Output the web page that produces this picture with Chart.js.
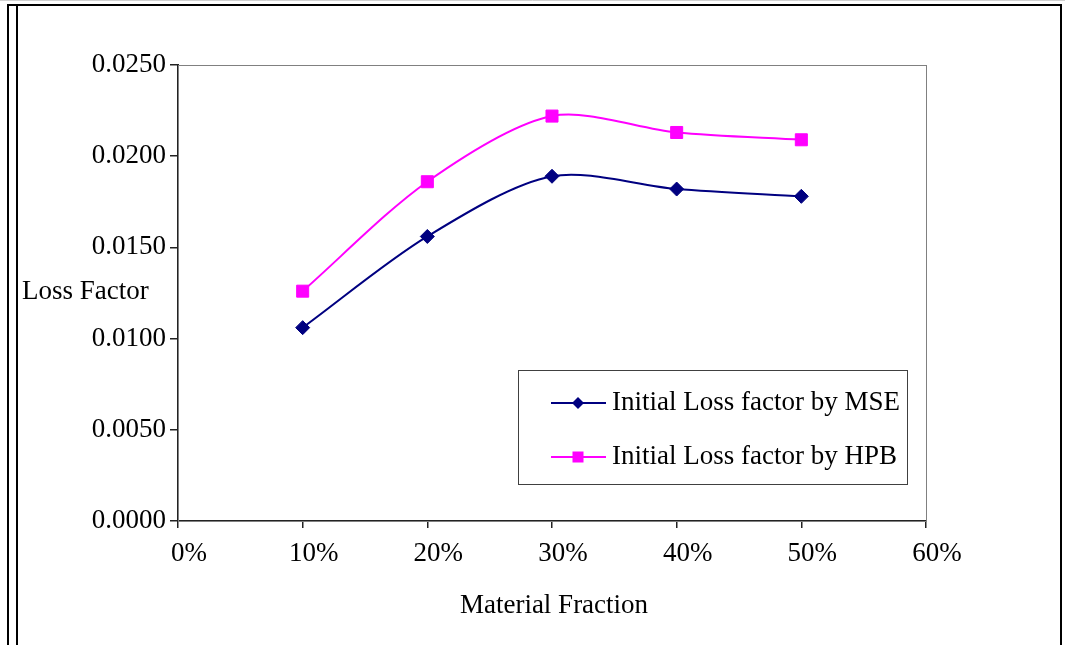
<!DOCTYPE html>
<html>
<head>
<meta charset="utf-8">
<script src="https://cdn.jsdelivr.net/npm/chart.js@4/dist/chart.umd.min.js"></script>
<style>
  html, body { margin: 0; padding: 0; background: #fff; }
  #wrap { width: 1065px; height: 645px; }
</style>
</head>
<body>
<div id="wrap"><canvas id="lossChart" width="1065" height="645"></canvas></div>
<script>
// data
const fractions = [10, 20, 30, 40, 50];           // material fraction, %
const mseLoss = [0.0106, 0.0156, 0.0189, 0.0182, 0.0178];
const hpbLoss = [0.0126, 0.0186, 0.0222, 0.0213, 0.0209];
const seriesNames = ['Initial Loss factor by MSE', 'Initial Loss factor by HPB'];
const xTitle = 'Material Fraction';
const yTitle = 'Loss Factor';

const FONT = "'Liberation Serif', 'Times New Roman', serif";
const FSIZE = 27;

// frame round the whole picture, plot border, titles and legend box
const decorations = {
  id: 'decorations',
  beforeDraw(chart) {
    const ctx = chart.ctx;
    ctx.save();
    ctx.fillStyle = '#fff';
    ctx.fillRect(0, 0, chart.width, chart.height);
    ctx.strokeStyle = '#d0d0d0';
    ctx.lineWidth = 1;
    ctx.beginPath(); ctx.moveTo(0, 0.5); ctx.lineTo(1065, 0.5); ctx.stroke();
    ctx.strokeStyle = '#000';
    ctx.lineWidth = 2;
    ctx.beginPath();
    ctx.moveTo(8, 645); ctx.lineTo(8, 5); ctx.lineTo(1061, 5); ctx.lineTo(1061, 645);
    ctx.moveTo(17, 645); ctx.lineTo(17, 5);
    ctx.stroke();
    ctx.restore();
  },
  beforeDatasetsDraw(chart) {
    const { ctx, chartArea: a } = chart;
    ctx.save();
    ctx.strokeStyle = '#808080';
    ctx.lineWidth = 1;
    ctx.strokeRect(a.left + 0.5, a.top + 0.5, a.right - a.left, a.bottom - a.top);
    ctx.restore();
  },
  afterDraw(chart) {
    const { ctx, chartArea: a } = chart;
    ctx.save();
    ctx.fillStyle = '#000';
    ctx.font = FSIZE + 'px ' + FONT;
    ctx.textBaseline = 'middle';
    ctx.textAlign = 'center';
    ctx.fillText(xTitle, (a.left + a.right) / 2 + 2, 606);
    ctx.textAlign = 'left';
    ctx.fillText(yTitle, 22, 292);

    // legend
    ctx.strokeStyle = '#404040';
    ctx.lineWidth = 1;
    ctx.strokeRect(518.5, 370.5, 389, 114);
    const rows = [403, 457];
    chart.data.datasets.forEach((ds, i) => {
      const y = rows[i];
      ctx.strokeStyle = ds.borderColor;
      ctx.lineWidth = 2;
      ctx.beginPath(); ctx.moveTo(551, y); ctx.lineTo(606, y); ctx.stroke();
      ctx.fillStyle = ds.backgroundColor;
      if (ds.pointStyle === 'rectRot') {
        ctx.beginPath();
        ctx.moveTo(578, y - 6); ctx.lineTo(584, y); ctx.lineTo(578, y + 6); ctx.lineTo(572, y);
        ctx.closePath(); ctx.fill();
      } else {
        ctx.fillRect(572.5, y - 5.5, 11, 11);
      }
      ctx.fillStyle = '#000';
      ctx.textAlign = 'left';
      ctx.fillText(ds.label, 612, y);
    });
    ctx.restore();
  }
};

new Chart(document.getElementById('lossChart'), {
  type: 'line',
  data: {
    datasets: [
      {
        label: seriesNames[0],
        data: fractions.map((x, i) => ({ x, y: mseLoss[i] })),
        borderColor: '#000080',
        backgroundColor: '#000080',
        borderWidth: 2,
        pointStyle: 'rectRot',
        pointRadius: 7,
        pointBorderWidth: 1,
        tension: 0.3
      },
      {
        label: seriesNames[1],
        data: fractions.map((x, i) => ({ x, y: hpbLoss[i] })),
        borderColor: '#ff00ff',
        backgroundColor: '#ff00ff',
        borderWidth: 2,
        pointStyle: 'rect',
        pointRadius: 8.5,
        pointBorderWidth: 1,
        tension: 0.3
      }
    ]
  },
  options: {
    responsive: false,
    animation: false,
    layout: { padding: { left: 0, top: 65, right: 139, bottom: 0 } },
    plugins: { legend: { display: false }, tooltip: { enabled: false } },
    scales: {
      x: {
        type: 'linear',
        min: 0, max: 60,
        border: { color: '#222', width: 2 },
        grid: { drawOnChartArea: false, color: '#222', tickLength: 7, lineWidth: 1.5 },
        ticks: {
          stepSize: 10,
          color: '#000',
          font: { family: FONT, size: FSIZE },
          padding: 10,
          labelOffset: 11,
          maxRotation: 0,
          callback: v => v + '%'
        },
        afterFit: s => { s.height = 124; }
      },
      y: {
        min: 0, max: 0.025,
        border: { color: '#222', width: 2 },
        grid: { drawOnChartArea: false, color: '#222', tickLength: 8, lineWidth: 1.5 },
        ticks: {
          stepSize: 0.005,
          color: '#000',
          font: { family: FONT, size: FSIZE },
          padding: 4,
          callback: v => Number(v).toFixed(4)
        },
        afterFit: s => { s.width = 178; }
      }
    }
  },
  plugins: [decorations]
});
</script>
</body>
</html>
